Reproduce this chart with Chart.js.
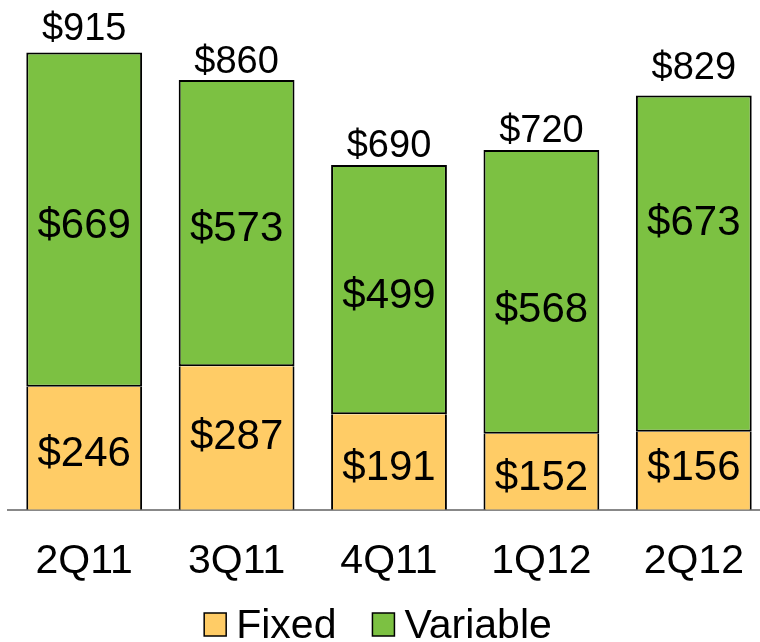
<!DOCTYPE html>
<html>
<head>
<meta charset="utf-8">
<script src="https://cdn.jsdelivr.net/npm/chart.js@4"></script>
<style>
  html, body { margin: 0; padding: 0; background: #fff; overflow: hidden; }
  #wrap { position: absolute; left: -10px; top: 0; width: 780px; height: 642px; }
</style>
</head>
<body>
<div id="wrap"><canvas id="cost"></canvas></div>
<script>
const quarters = ["2Q11", "3Q11", "4Q11", "1Q12", "2Q12"];
const fixedVals = [246, 287, 191, 152, 156];
const variableVals = [669, 573, 499, 568, 673];

// label nudges (px), the original has hand-placed labels
const nudgeFixed = [0, -7, 0, 0, -9];
const nudgeVar = [0, 0, 0, 12, -47];
const nudgeTotal = [-4, 1, 0, 0, -8];

const FONT = "'Liberation Sans', Arial, sans-serif";

const valueLabels = {
  id: "valueLabels",
  afterDatasetsDraw(chart) {
    const ctx = chart.ctx;
    ctx.save();
    ctx.fillStyle = "#000";
    ctx.textAlign = "center";
    ctx.textBaseline = "alphabetic";
    const nudges = [nudgeFixed, nudgeVar];
    chart.data.datasets.forEach((ds, di) => {
      const meta = chart.getDatasetMeta(di);
      meta.data.forEach((bar, i) => {
        const p = bar.getProps(["x", "y", "base"], true);
        const cy = (p.y + p.base) / 2 + 3 + nudges[di][i];
        ctx.font = "42px " + FONT;
        ctx.fillText("$" + ds.data[i], p.x, cy + 0.358 * 42);
      });
    });
    // totals on top
    const top = chart.getDatasetMeta(1);
    top.data.forEach((bar, i) => {
      const total = fixedVals[i] + variableVals[i];
      const cy = bar.y - 22 + nudgeTotal[i];
      ctx.font = "38px " + FONT;
      ctx.fillText("$" + total, bar.x, cy + 0.358 * 38);
    });
    ctx.restore();
  }
};

// legend drawn by hand: tight box/text spacing like the original
const bottomLegend = {
  id: "bottomLegend",
  afterDraw(chart) {
    const ctx = chart.ctx;
    ctx.save();
    ctx.font = "41px " + FONT;
    ctx.textBaseline = "alphabetic";
    const boxW = 22, boxH = 23, gap = 10, itemGap = 36;
    const items = chart.data.datasets.map(ds => ({
      text: ds.label, color: ds.backgroundColor, w: ctx.measureText(ds.label).width
    }));
    let total = 0;
    items.forEach((it, i) => { total += boxW + gap + it.w + (i ? itemGap : 0); });
    let x = 388 - total / 2;
    const cy = 623;
    items.forEach((it, i) => {
      if (i) x += itemGap;
      ctx.fillStyle = it.color;
      ctx.fillRect(x, cy - 10, boxW, boxH);
      ctx.strokeStyle = "#000";
      ctx.lineWidth = 1.5;
      ctx.strokeRect(x, cy - 10, boxW, boxH);
      x += boxW + gap;
      ctx.fillStyle = "#000";
      ctx.fillText(it.text, x, cy + 0.358 * 41);
      x += it.w;
    });
    ctx.restore();
  }
};

new Chart(document.getElementById("cost"), {
  type: "bar",
  data: {
    labels: quarters,
    datasets: [
      {
        label: "Fixed",
        data: fixedVals,
        backgroundColor: "#FFCC66",
        borderColor: "#000",
        borderWidth: { top: 0, left: 2, right: 2, bottom: 0 },
        borderSkipped: false
      },
      {
        label: "Variable",
        data: variableVals,
        backgroundColor: "#7CC142",
        borderColor: "#000",
        borderWidth: { top: 2, left: 2, right: 2, bottom: 2 },
        borderSkipped: false
      }
    ]
  },
  options: {
    responsive: true,
    maintainAspectRatio: false,
    animation: false,
    layout: { padding: { top: 10, left: 0, right: 0, bottom: 37 } },
    datasets: { bar: { barPercentage: 0.76, categoryPercentage: 1 } },
    plugins: {
      tooltip: { enabled: false },
      legend: { display: false }
    },
    scales: {
      x: {
        stacked: true,
        grid: { display: false },
        border: { color: "#888", width: 2 },
        ticks: { color: "#000", font: { family: FONT, size: 41 }, padding: 19 }
      },
      y: {
        stacked: true,
        min: 0,
        max: 1000,
        grid: { display: false },
        border: { display: false },
        ticks: { display: false },
        afterFit(scale) { scale.width = 18; }
      }
    }
  },
  plugins: [valueLabels, bottomLegend]
});
</script>
</body>
</html>
